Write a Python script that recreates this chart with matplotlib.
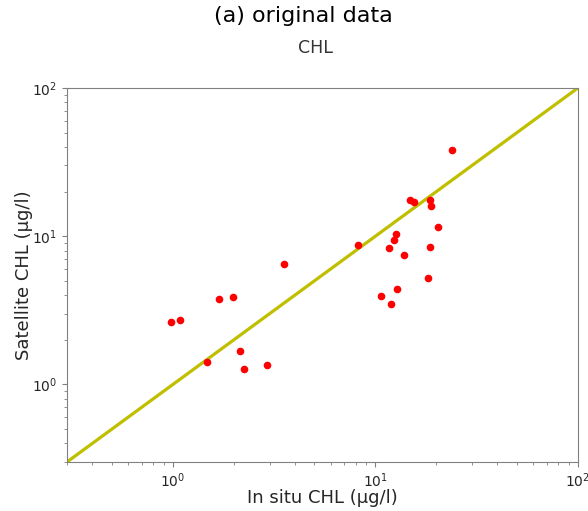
import numpy as np
import matplotlib
matplotlib.use('Agg')
import matplotlib.pyplot as plt

# In situ vs satellite chlorophyll (ug/l)
in_situ = [0.98, 1.08, 1.69, 1.98, 1.47, 2.14, 2.24, 2.91, 3.53, 8.17,
           23.9, 14.8, 15.5, 18.6, 18.8, 20.4, 12.6, 12.4, 11.6, 13.8,
           18.6, 18.2, 12.8, 10.7, 11.9]
satellite = [2.62, 2.70, 3.79, 3.91, 1.41, 1.69, 1.28, 1.36, 6.53, 8.67,
             38.0, 17.6, 17.1, 17.6, 15.9, 11.6, 10.3, 9.43, 8.33, 7.5,
             8.45, 5.2, 4.38, 3.92, 3.46]
lims = [0.3, 100]

fig = plt.figure(figsize=(5.88, 5.11), dpi=100)
ax = fig.add_axes([0.114, 0.096, 0.869, 0.732])

# 1:1 line and matchups
ax.plot(lims, lims, color='y', linewidth=2.3, zorder=1)
ax.scatter(in_situ, satellite, color='red', s=20, zorder=2)

ax.set_xscale('log')
ax.set_yscale('log')
ax.set_xlim(lims)
ax.set_ylim(lims)

for sp in ax.spines.values():
    sp.set_color('#808080')
ax.tick_params(which='both', colors='#808080', labelcolor='#262626', labelsize=10)

ax.set_xlabel('In situ CHL (µg/l)', fontsize=13, color='#262626')
ax.set_ylabel('Satellite CHL (µg/l)', fontsize=13, color='#262626')
ax.xaxis.set_label_coords(0.5, -0.073)
ax.yaxis.set_label_coords(-0.066, 0.5)

# subplot title and figure title
fig.text(0.536, 0.896, 'CHL', fontsize=12.5, color='#333333', ha='center', va='baseline')
fig.text(0.516, 0.969, '(a) original data', fontsize=16, ha='center', va='center')

fig.savefig('out.png', dpi=100)
